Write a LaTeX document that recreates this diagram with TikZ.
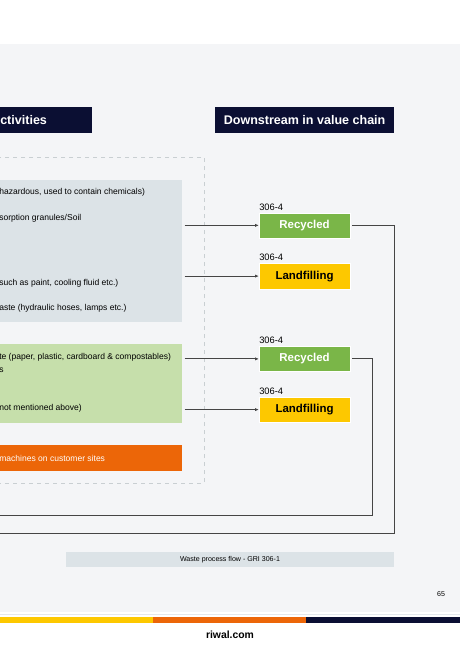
\documentclass[tikz,border=0pt]{standalone}
\usepackage{fontspec}
\setmainfont{Liberation Sans}
\usepackage{tikz}
\usetikzlibrary{arrows.meta,positioning,calc}
\definecolor{pagebg}{HTML}{F4F5F7}
\definecolor{navy}{HTML}{0B0F33}
\definecolor{boxgray}{HTML}{DCE3E7}
\definecolor{boxgreen}{HTML}{C6DFAB}
\definecolor{rwlorange}{HTML}{EC6608}
\definecolor{recgreen}{HTML}{7AB648}
\definecolor{rwlyellow}{HTML}{FDC800}
\definecolor{flowline}{HTML}{454545}

\begin{document}
\begin{tikzpicture}[x=0.75pt, y=-0.75pt,
  header/.style={fill=navy, text=white, font=\fontsize{9.4}{10}\selectfont\bfseries,
    minimum height=19.5pt, inner sep=0pt},
  group/.style={inner sep=0pt, anchor=north west},
  item/.style={anchor=west, inner sep=0pt, font=\fontsize{6.4}{7}\selectfont},
  dest/.style={minimum width=68pt, minimum height=19pt, inner sep=0pt,
    font=\fontsize{8.6}{9}\selectfont\bfseries, draw=white, line width=0.3pt},
  code/.style={font=\fontsize{7}{8}\selectfont, inner sep=0pt, anchor=south west},
  arr/.style={-{Latex[length=3pt,width=2.4pt]}, flowline, line width=0.6pt},
  ret/.style={flowline, line width=0.6pt}
]
\useasboundingbox (0,0) rectangle (460,650);
% page background
\fill[pagebg] (0,44) rectangle (460,612);
\fill[boxgray!70!pagebg] (0,613.5) rectangle (460,615);
\fill[rwlyellow] (0,617) rectangle (153,623);
\fill[rwlorange] (153,617) rectangle (306,623);
\fill[navy] (306,617) rectangle (460,623);

% headers
\node[header, anchor=north west, minimum width=67.5pt] (hdrleft) at (0,107) {ctivities\hspace*{34pt}};
\node[header, anchor=north west, minimum width=134pt] (hdrright) at (215,107) {Downstream in value chain};

% activities
\draw[boxgray!80!gray, dashed, line width=0.5pt] (-5,157) rectangle (204,483);
\node[group, fill=boxgray, minimum width=136.5pt, minimum height=106.5pt] (haz) at (0,180) {};
\node[group, fill=boxgreen, minimum width=136.5pt, minimum height=59.25pt] (nonhaz) at (0,344) {};
\node[group, fill=rwlorange, minimum width=136.5pt, minimum height=19.5pt] (sites) at (0,445) {};

\node[item] (h1) at (-1,192) {hazardous, used to contain chemicals)};
\node[item] (h2) at (-1,218) {sorption granules/Soil};
\node[item] (h3) at (-1,283) {such as paint, cooling fluid etc.)};
\node[item] (h4) at (-1,308) {aste (hydraulic hoses, lamps etc.)};
\node[item] (n1) at (-1,357) {te (paper, plastic, cardboard \& compostables)};
\node[item] (n2) at (-1,370) {s};
\node[item] (n3) at (-1,408) {not mentioned above)};
\node[item, text=white] (s1) at (-1,458) {machines on customer sites};

% downstream
\node[dest, fill=recgreen, text=white, anchor=north west] (rec1) at (259,212.5) {Recycled};
\node[dest, fill=rwlyellow, text=black, below=18.75pt of rec1] (land1) {Landfilling};
\node[dest, fill=recgreen, text=white, anchor=north west] (rec2) at (259,346) {Recycled};
\node[dest, fill=rwlyellow, text=black, below=18.75pt of rec2] (land2) {Landfilling};
\foreach \d in {rec1,land1,rec2,land2}
  \node[code] at ($(\d.north west)+(0,-2)$) {306-4};

\draw[arr] ($(haz.east |- rec1)+(2,0)$) -- (rec1.west);
\draw[arr] ($(haz.east |- land1)+(2,0)$) -- (land1.west);
\draw[arr] ($(nonhaz.east |- rec2)+(2,0)$) -- (rec2.west);
\draw[arr] ($(nonhaz.east |- land2)+(2,0)$) -- (land2.west);

% loops back
\coordinate (back1) at (0,533);
\coordinate (back2) at (0,515);
\draw[ret] ($(rec1.east)+(2,0)$) -| (394,533) -- (back1);
\draw[ret] ($(rec2.east)+(2,0)$) -| (372,515) -- (back2);

% caption and footer
\node[fill=boxgray, minimum width=246pt, minimum height=11.25pt, inner sep=0pt,
  font=\fontsize{5.3}{6}\selectfont] (caption) at (230,559.5) {Waste process flow - GRI 306-1};
\node[font=\fontsize{5.3}{6}\selectfont, inner sep=0pt] (page) at (441,594) {65};
\node[font=\fontsize{7.8}{8}\selectfont\bfseries, inner sep=0pt] (site) at (230,635) {riwal.com};
\end{tikzpicture}
\end{document}
